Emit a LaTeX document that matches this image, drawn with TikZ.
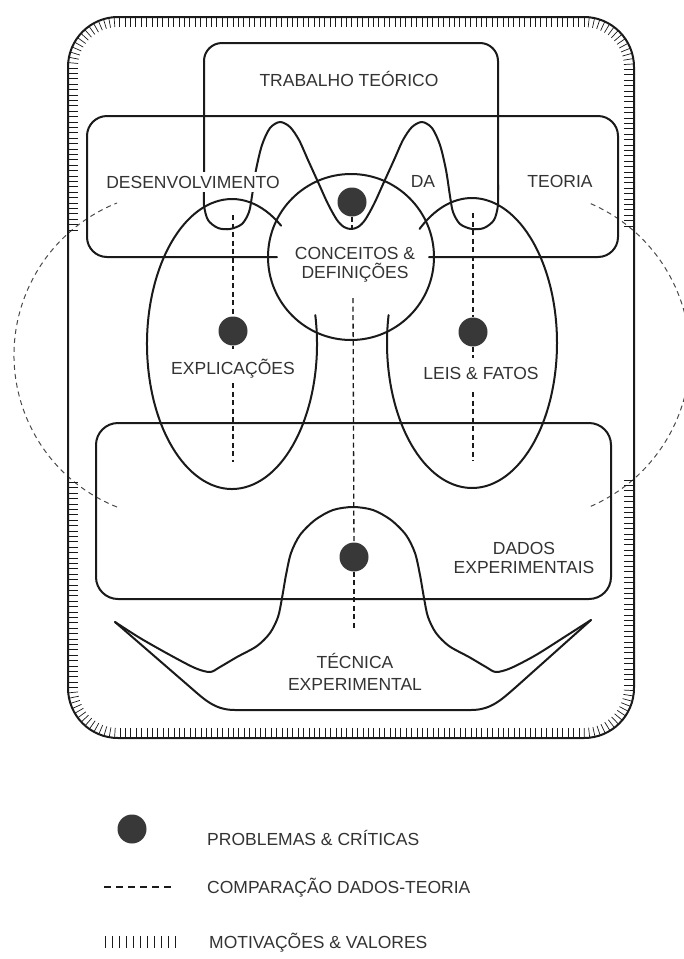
\documentclass[tikz,border=0pt]{standalone}
\usepackage{fontspec}
\setmainfont{Liberation Sans}
\usetikzlibrary{decorations.markings}
\definecolor{ink}{HTML}{1A1A1A}
\definecolor{txt}{HTML}{333333}
\definecolor{dotc}{HTML}{383838}
\definecolor{bigd}{HTML}{4A4A4A}
\newcommand{\lblfont}{\fontsize{17.5}{21}\selectfont}
\begin{document}
\begin{tikzpicture}[x=1pt,y=-1pt,
  ln/.style={draw=ink, line width=2pt, line cap=round, line join=round},
  cmp/.style={draw=ink, line width=1.3pt, dash pattern=on 5pt off 3.5pt},
  bigdash/.style={draw=bigd, line width=1pt, dash pattern=on 5pt off 4pt},
  tickst/.style={draw=ink, line width=0.7pt},
  hatch/.style={decorate, decoration={markings,
     mark=between positions 0 and 1 step 5.4pt with {\draw[tickst] (0pt,0pt) -- (0pt,-10pt);}}},
  dot/.style={circle, fill=dotc, minimum size=29pt, inner sep=0pt},
  lbl/.style={font=\lblfont, text=txt, inner sep=1pt, anchor=base}]
\useasboundingbox (0,0) rectangle (684,959);
\fill[white] (0,0) rectangle (684,959);

% comparison arcs (outside)
\draw[bigdash] (177.7,355) ++(111.8:163.7) arc[start angle=111.8, end angle=248.2, radius=163.7];
\draw[bigdash] (525,355) ++(-66.5:165) arc[start angle=-66.5, end angle=66.5, radius=165];

% outer frame with motivation hatching
\draw[ln] (68,17) [rounded corners=50pt] rectangle (634,738);
\path[hatch] (68,230) -- (68,67) arc[start angle=180,end angle=270,radius=50] -- (584,17)
   arc[start angle=270,end angle=360,radius=50] -- (634,230);
\path[hatch] (634,480) -- (634,688) arc[start angle=0,end angle=90,radius=50] -- (118,738)
   arc[start angle=90,end angle=180,radius=50] -- (68,480);

% desenvolvimento da teoria box
\draw[ln] (277,257) -- (107,257) arc[start angle=90,end angle=180,radius=20] -- (87,136)
   arc[start angle=180,end angle=270,radius=20] -- (598,116)
   arc[start angle=270,end angle=360,radius=20] -- (618,237)
   arc[start angle=0,end angle=90,radius=20] -- (429,257);

% dados experimentais box
\draw[ln] (96,423) [rounded corners=22pt] rectangle (611,599);

% ellipses
\draw[ln] (232,344) ++(-11.5:85 and 145) arc[start angle=-11.5, end angle=305.3, x radius=85, y radius=145];
\draw[ln] (472,343) ++(231.9:85 and 145) arc[start angle=231.9, end angle=551.1, x radius=85, y radius=145];

% conceitos circle
\draw[ln] (351,257) circle[radius=83];

% tecnica experimental
\draw[ln] (115,622) -- (190,687) .. controls (205,700) and (215,710) .. (235,710) -- (471,710)
   .. controls (491,710) and (501,700) .. (516,687) -- (591,620);
\draw[ln] plot[smooth, tension=0.5] coordinates {(591,620) (566,636) (536,655) (511,668) (496,672)
   (486,667) (469,657) (449,646) (436,633) (428,617) (424,598) (420,575) (415,553) (406,535)
   (391,520) (373,510) (353,507) (333,510) (315,520) (300,535) (291,553) (286,575) (282,598)
   (278,617) (270,633) (257,646) (237,657) (220,667) (210,672) (195,668) (170,655) (140,638) (115,622)};

% trabalho teorico with W bottom
\draw[ln] (204,190) -- (204,61) arc[start angle=180,end angle=270,radius=18] -- (480,43)
   arc[start angle=270,end angle=360,radius=18] -- (498,190);
\draw[ln] plot[smooth, tension=0.5] coordinates {(204,185) (204,205) (208,220) (218,228) (230,229)
   (242,224) (249,212) (252,196) (256,170) (262,145) (270,128) (280,122) (290,127) (299,140)
   (308,160) (318,182) (328,204) (337,220) (344,227) (351,229) (358,227) (365,220) (374,204)
   (384,182) (394,160) (403,140) (412,127) (422,122) (432,128) (440,145) (446,170) (450,196)
   (453,212) (460,224) (472,229) (484,228) (494,220) (498,205) (498,185)};

% problem dots
\node[dot] (cDot) at (352,202) {};
\node[dot] (lDot) at (233,331) {};
\node[dot] (rDot) at (473,332) {};
\node[dot] (tDot) at (354,557) {};

% comparison lines
\coordinate (lTop) at (233,215);
\coordinate (lMid) at (233,349);
\coordinate (lLow) at (233,383);
\coordinate (lBot) at (233,462);
\coordinate (rTop) at (473,213);
\coordinate (rMid) at (473,358);
\coordinate (rLow) at (473,392);
\coordinate (rBot) at (473,461);
\coordinate (cU) at (352,229);
\coordinate (cTop) at (353,298);
\coordinate (cBot) at (354,628);
\draw[cmp] (lTop) -- (lDot);
\draw[cmp] (lDot) -- (lMid);
\draw[cmp] (lLow) -- (lBot);
\draw[cmp] (rTop) -- (rDot);
\draw[cmp] (rDot) -- (rMid);
\draw[cmp] (rLow) -- (rBot);
\draw[cmp] (cDot) -- (cU);
\draw[cmp] (cTop) -- (tDot);
\draw[cmp] (tDot) -- (cBot);

% labels
\node[lbl] (tt) at (349,86.3) {TRABALHO TEÓRICO};
\node[lbl, fill=white, inner xsep=2pt, inner ysep=4pt] (dv) at (193,188.3) {DESENVOLVIMENTO};
\node[lbl] (da) at (423,187.3) {DA};
\node[lbl] (te) at (560,187.3) {TEORIA};
\node[lbl] (cc1) at (355,259.3) {CONCEITOS \&};
\node[lbl] (cc2) at (355,278.3) {DEFINIÇÕES};
\node[lbl] (ex) at (233,374.3) {EXPLICAÇÕES};
\node[lbl] (lf) at (481,379.3) {LEIS \& FATOS};
\node[lbl] (dd1) at (524,554) {DADOS};
\node[lbl] (dd2) at (524,573) {EXPERIMENTAIS};
\node[lbl] (tc1) at (355,668) {TÉCNICA};
\node[lbl] (tc2) at (355,690) {EXPERIMENTAL};

% legend
\node[dot] (lgDot) at (132,829) {};
\node[lbl, anchor=base west] (lg1) at (206,845) {PROBLEMAS \& CRÍTICAS};
\coordinate (lgA) at (104,887);
\coordinate (lgB) at (171,887);
\draw[draw=ink, line width=1.2pt, dash pattern=on 7pt off 5pt] (lgA) -- (lgB);
\node[lbl, anchor=base west] (lg2) at (206,893) {COMPARAÇÃO DADOS-TEORIA};
\foreach \i in {0,...,10} { \draw[tickst, line width=0.8pt] (105+7*\i,936) -- (105+7*\i,948); }
\node[lbl, anchor=base west] (lg3) at (208,948) {MOTIVAÇÕES \& VALORES};
\end{tikzpicture}
\end{document}
